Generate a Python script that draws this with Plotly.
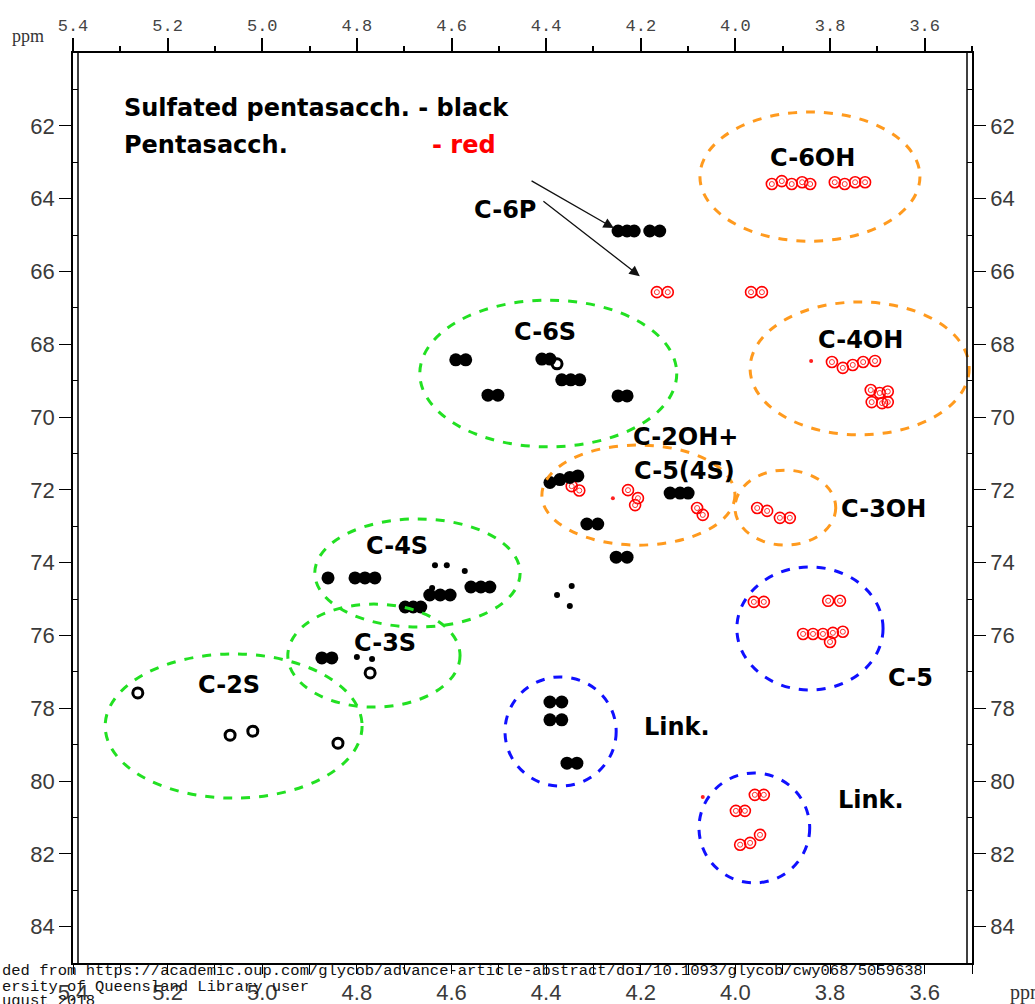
import plotly.graph_objects as go

# ---------------- data (1H ppm, 13C ppm) ----------------
# sulfated pentasaccharide (black, filled contour lobes)
black_h = [4.248, 4.229, 4.214, 4.181, 4.160,
           4.591, 4.570, 4.523, 4.502, 4.409, 4.392, 4.367, 4.348, 4.329, 4.248, 4.229,
           4.392, 4.371, 4.350, 4.333, 4.138, 4.117, 4.100, 4.314, 4.291, 4.252, 4.229,
           4.861, 4.804, 4.783, 4.762, 4.559, 4.538, 4.519, 4.646, 4.624, 4.603, 4.698, 4.681, 4.665,
           4.874, 4.853,
           4.392, 4.367, 4.392, 4.367, 4.356, 4.335]
black_c = [64.89, 64.89, 64.89, 64.89, 64.89,
           68.43, 68.43, 69.40, 69.40, 68.41, 68.41, 68.98, 68.98, 68.98, 69.42, 69.42,
           71.80, 71.72, 71.66, 71.62, 72.09, 72.09, 72.09, 72.94, 72.94, 73.85, 73.85,
           74.42, 74.42, 74.42, 74.42, 74.67, 74.67, 74.67, 74.89, 74.89, 74.89, 75.22, 75.22, 75.22,
           76.62, 76.62,
           77.83, 77.83, 78.32, 78.32, 79.51, 79.51]
# weak black cross peaks
black_small_h = [4.377, 4.346, 4.350, 4.572, 4.800, 4.768, 4.641, 4.635, 4.610]
black_small_c = [74.89, 74.64, 75.19, 74.23, 76.59, 76.65, 74.70, 74.07, 74.07]
# black peaks drawn as open contours
black_open_h = [5.263, 5.068, 5.020, 4.840, 4.377, 4.772]
black_open_c = [77.58, 78.74, 78.63, 78.96, 68.54, 77.03]
# pentasaccharide (red, open contours)
red_h = [4.166, 4.143, 3.967, 3.944,
         3.923, 3.902, 3.881, 3.859, 3.842, 3.790, 3.769, 3.747, 3.726,
         3.796, 3.773, 3.752, 3.730, 3.705, 3.714, 3.695, 3.678, 3.712, 3.690, 3.678,
         4.346, 4.330, 4.227, 4.206, 4.212, 4.081, 4.069,
         3.954, 3.933, 3.906, 3.885,
         3.961, 3.940, 3.804, 3.779, 3.857, 3.836, 3.815, 3.794, 3.773, 3.800,
         3.959, 3.940, 3.999, 3.980, 3.990, 3.969, 3.948]
red_c = [66.57, 66.57, 66.57, 66.57,
         63.60, 63.52, 63.60, 63.55, 63.60, 63.55, 63.60, 63.55, 63.55,
         68.49, 68.65, 68.57, 68.49, 68.46, 69.26, 69.34, 69.30, 69.59, 69.62, 69.59,
         71.90, 72.02, 72.01, 72.23, 72.42, 72.50, 72.69,
         72.50, 72.58, 72.77, 72.77,
         75.08, 75.08, 75.05, 75.05, 75.96, 75.96, 75.96, 75.93, 75.90, 76.18,
         80.38, 80.38, 80.82, 80.82, 81.75, 81.70, 81.48]
red_small_h = [4.259, 4.069, 3.840]
red_small_c = [72.23, 80.44, 68.46]

# assignment regions (dashed ellipses): name, 1H range, 13C range, colour group
region_names = ["C-6S", "C-4S", "C-3S", "C-2S", "C-6OH", "C-4OH", "C-2OH", "C-3OH", "C-5", "Link1", "Link2"]
region_h0 = [4.667, 4.889, 4.946, 5.332, 4.075, 3.969, 4.409, 4.001, 3.997, 4.487, 4.077]
region_h1 = [4.124, 4.455, 4.582, 4.789, 3.610, 3.506, 4.001, 3.788, 3.688, 4.252, 3.843]
region_c0 = [66.79, 72.80, 75.14, 76.51, 61.62, 66.84, 70.77, 71.46, 74.12, 77.14, 79.78]
region_c1 = [70.82, 75.77, 77.97, 80.47, 65.17, 70.49, 73.52, 73.52, 77.50, 80.14, 82.80]
region_group = ["sulf", "sulf", "sulf", "sulf", "oh", "oh", "oh", "oh", "c5", "c5", "c5"]

x_ticks = [5.4, 5.2, 5.0, 4.8, 4.6, 4.4, 4.2, 4.0, 3.8, 3.6]
y_ticks = [62, 64, 66, 68, 70, 72, 74, 76, 78, 80, 82, 84]

# ---------------- figure ----------------
W, H = 1035, 1004
L, R, T, B = 73, 63, 53, 41
PW, PH = W - L - R, H - T - B


def px(xp):
    return (xp - L) / PW


def py(yp):
    return 1 - (yp - T) / PH


fig = go.Figure()
fig.add_trace(go.Scatter(x=red_h, y=red_c, mode="markers", hoverinfo="skip",
                         marker=dict(symbol="circle-open", size=11, color="#ff0000",
                                     line=dict(width=1.6, color="#ff0000"))))
fig.add_trace(go.Scatter(x=red_h, y=red_c, mode="markers", hoverinfo="skip",
                         marker=dict(symbol="circle-open", size=5, color="#ff3030",
                                     line=dict(width=1, color="#ff3030"))))
fig.add_trace(go.Scatter(x=red_small_h, y=red_small_c, mode="markers", hoverinfo="skip",
                         marker=dict(symbol="circle", size=4, color="#ff2020")))
fig.add_trace(go.Scatter(x=black_h, y=black_c, mode="markers", hoverinfo="skip",
                         marker=dict(symbol="circle", size=13, color="black", line=dict(width=0))))
fig.add_trace(go.Scatter(x=black_small_h, y=black_small_c, mode="markers", hoverinfo="skip",
                         marker=dict(symbol="circle", size=6, color="black", line=dict(width=0))))
fig.add_trace(go.Scatter(x=black_open_h, y=black_open_c, mode="markers", hoverinfo="skip",
                         marker=dict(symbol="circle-open", size=10, color="black",
                                     line=dict(width=3, color="black"))))
# invisible trace to anchor the mirrored axes
fig.add_trace(go.Scatter(x=[4.5], y=[70], xaxis="x2", yaxis="y2", mode="markers",
                         marker=dict(opacity=0), hoverinfo="skip"))

group_color = {"sulf": "#22e022", "oh": "#ff9a1e", "c5": "#1010ff"}
for h0, h1, c0, c1, g in zip(region_h0, region_h1, region_c0, region_c1, region_group):
    fig.add_shape(type="circle", xref="x", yref="y", x0=h0, x1=h1, y0=c0, y1=c1,
                  line=dict(color=group_color[g], width=3, dash="dash"), layer="above")

# double frame lines (left / right)
for anchor, off in [(0, 5), (1, -5)]:
    fig.add_shape(type="line", xref="paper", yref="paper", xsizemode="pixel", xanchor=anchor,
                  x0=off, x1=off, y0=0, y1=1, line=dict(color="black", width=1.5))

lab = dict(family="DejaVu Sans, Liberation Sans, Arial", size=24, color="black")
labels = [
    ("C-6P", 4.487, 64.31), ("C-6S", 4.403, 67.66), ("C-6OH", 3.838, 62.88),
    ("C-4OH", 3.735, 67.88), ("C-2OH+", 4.105, 70.55), ("C-5(4S)", 4.108, 71.48),
    ("C-3OH", 3.686, 72.53), ("C-4S", 4.715, 73.54), ("C-3S", 4.741, 76.21),
    ("C-2S", 5.070, 77.36), ("C-5", 3.629, 77.17),
]
for t, x, y in labels:
    fig.add_annotation(x=x, y=y, text="<b>%s</b>" % t, showarrow=False, font=lab,
                       xanchor="center", yanchor="middle")
fig.add_annotation(x=4.198, y=78.52, text="<b>Link.</b>", showarrow=False, font=lab,
                   xanchor="left", yanchor="middle")
fig.add_annotation(x=3.788, y=80.52, text="<b>Link.</b>", showarrow=False, font=lab,
                   xanchor="left", yanchor="middle")
fig.add_annotation(x=5.296, y=61.51, text="<b>Sulfated pentasacch. - black</b>", showarrow=False,
                   font=lab, xanchor="left", yanchor="middle")
fig.add_annotation(x=5.296, y=62.53, text="<b>Pentasacch.</b>", showarrow=False,
                   font=lab, xanchor="left", yanchor="middle")
fig.add_annotation(x=4.646, y=62.53, text="<b>- red</b>", showarrow=False,
                   font=dict(family=lab["family"], size=24, color="#ff0000"),
                   xanchor="left", yanchor="middle")

# arrows for C-6P
for (hx, hy, tx, ty) in [(4.257, 64.81, 4.434, 63.49), (4.202, 66.13, 4.409, 64.04)]:
    fig.add_annotation(x=hx, y=hy, ax=tx, ay=ty, xref="x", yref="y", axref="x", ayref="y",
                       showarrow=True, arrowhead=2, arrowsize=1.6, arrowwidth=1.3,
                       arrowcolor="#111", text="")

# ppm labels and download watermark
fig.add_annotation(xref="paper", yref="paper", x=px(10), y=py(36), text="ppm", showarrow=False,
                   xanchor="left", yanchor="middle",
                   font=dict(family="Liberation Serif, Times New Roman, serif", size=18, color="#333"))
fig.add_annotation(xref="paper", yref="paper", x=px(1008), y=py(992), text="ppm", showarrow=False,
                   xanchor="left", yanchor="middle",
                   font=dict(family="Liberation Serif, Times New Roman, serif", size=20, color="#333"))
wm = dict(family="Liberation Mono, Courier New, monospace", size=15.5, color="#111")
for txt, yp in [("ded from https://academic.oup.com/glycob/advance-article-abstract/doi/10.1093/glycob/cwy068/5059638", 971),
                ("ersity of Queensland Library user", 987),
                ("ugust 2018", 1001)]:
    fig.add_annotation(xref="paper", yref="paper", x=px(0), y=py(yp), text=txt, showarrow=False,
                       xanchor="left", yanchor="middle", font=wm)

tick_font = dict(family="Liberation Sans, Arial", size=22, color="#3a3a3a")
common_y = dict(range=[85, 60], tickvals=y_ticks, ticktext=[str(v) for v in y_ticks],
                showgrid=False, zeroline=False, showline=True, linecolor="black", linewidth=1.5,
                ticks="outside", ticklen=12, tickwidth=1.3, tickcolor="black", tickfont=tick_font,
                automargin=False,
                minor=dict(tickvals=[61, 63, 65, 67, 69, 71, 73, 75, 77, 79, 81, 83], ticks="inside",
                           ticklen=5, tickcolor="black", tickwidth=1.3))
fig.update_layout(
    width=W, height=H, margin=dict(l=L, r=R, t=T, b=B, autoexpand=False),
    paper_bgcolor="white", plot_bgcolor="white", showlegend=False,
    xaxis=dict(range=[5.4, 3.5], tickvals=x_ticks, ticktext=["%.1f" % v for v in x_ticks],
               showgrid=False, zeroline=False, showline=True, linecolor="black", linewidth=1.5,
               ticks="outside", ticklen=9, tickwidth=1.3, tickcolor="black", tickfont=tick_font,
               automargin=False,
               minor=dict(dtick=0.1, tick0=3.5, ticks="outside", ticklen=9, tickcolor="black", tickwidth=1.3)),
    xaxis2=dict(range=[5.4, 3.5], overlaying="x", side="top", tickvals=x_ticks,
                ticktext=["%.1f" % v for v in x_ticks], automargin=False,
                showgrid=False, zeroline=False, showline=True, linecolor="black", linewidth=1.5,
                ticks="outside", ticklen=13, tickwidth=1.5, tickcolor="black",
                tickfont=dict(family="Liberation Mono, Courier New, monospace", size=17, color="#444"),
                minor=dict(dtick=0.1, tick0=3.5, ticks="outside", ticklen=5, tickcolor="black", tickwidth=1.5)),
    yaxis=dict(**common_y),
    yaxis2=dict(**common_y, overlaying="y", side="right"),
)
fig.write_html("out.html", config={"displayModeBar": False},
               post_script="document.body.style.margin='0px';document.body.style.overflow='hidden';")
